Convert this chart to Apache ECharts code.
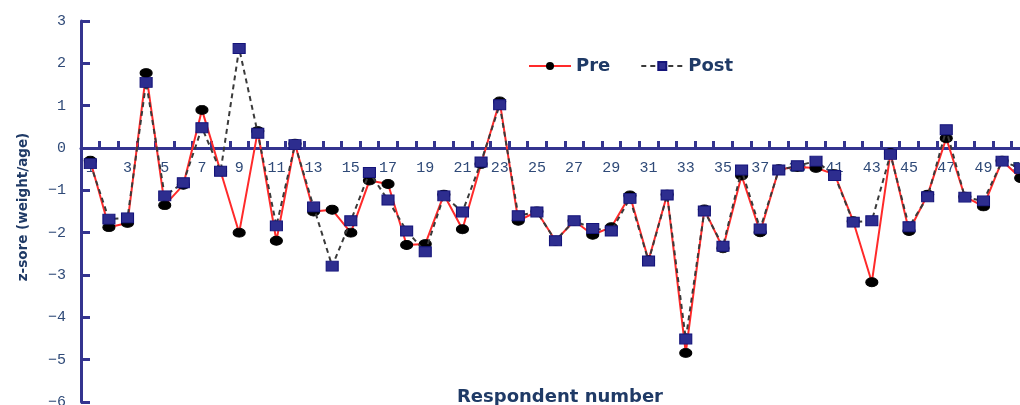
<!DOCTYPE html>
<html>
<head>
    <meta charset="utf-8">
    <title>z-score pre/post</title>
    <script src="https://cdn.jsdelivr.net/npm/echarts@6/dist/echarts.min.js"></script>
    <style>
        html, body, #main {
            width: 100%;
            height: 100%;
            margin: 0;
            background: #fff;
        }
    </style>
</head>
<body>
    <div id="main"></div>
    <script type="text/javascript">
        // respondent numbers 1..51
        var respondents = [];
        for (var i = 1; i <= 51; i++) respondents.push(String(i));

        var pre = [
            -0.30, -1.87, -1.77, 1.77, -1.35, -0.87, 0.90, -0.55, -2.00, 0.40,
            -2.19, 0.10, -1.50, -1.46, -2.00, -0.77, -0.85, -2.29, -2.27, -1.10,
            -1.92, -0.38, 1.10, -1.72, -1.50, -2.19, -1.72, -2.05, -1.87, -1.12,
            -2.65, -1.10, -4.84, -1.45, -2.37, -0.65, -1.99, -0.50, -0.45, -0.47,
            -0.62, -1.73, -3.17, -0.12, -1.96, -1.10, 0.23, -1.15, -1.38, -0.30,
            -0.71
        ];
        var post = [
            -0.37, -1.68, -1.65, 1.55, -1.13, -0.82, 0.48, -0.55, 2.35, 0.35,
            -1.84, 0.08, -1.39, -2.79, -1.72, -0.58, -1.23, -1.96, -2.45, -1.13,
            -1.51, -0.33, 1.02, -1.60, -1.51, -2.19, -1.72, -1.90, -1.96, -1.19,
            -2.67, -1.11, -4.51, -1.49, -2.32, -0.52, -1.91, -0.52, -0.42, -0.31,
            -0.65, -1.75, -1.72, -0.15, -1.86, -1.15, 0.43, -1.16, -1.25, -0.31,
            -0.48
        ];

        var axisColor = '#34348f';
        var labelColor = '#2f4a78';
        var titleColor = '#1f3a66';

        var myChart = echarts.init(document.getElementById('main'));
        var option = {
            animation: false,
            grid: {
                left: 81,
                top: 21,
                width: 949,
                height: 381,
                containLabel: false,
                outerBoundsMode: 'none'
            },
            legend: {
                left: 523,
                top: 52,
                itemWidth: 42,
                itemHeight: 10,
                itemGap: 30,
                textStyle: {
                    fontFamily: 'DejaVu Sans',
                    fontWeight: 'bold',
                    fontSize: 18,
                    color: titleColor
                },
                data: ['Pre', 'Post']
            },
            graphic: [
                {
                    type: 'text',
                    x: 23,
                    y: 207,
                    rotation: Math.PI / 2,
                    style: {
                        text: 'z-sore (weight/age)',
                        fontFamily: 'DejaVu Sans',
                        fontWeight: 'bold',
                        fontSize: 13.5,
                        fill: titleColor,
                        textAlign: 'center',
                        textVerticalAlign: 'middle'
                    }
                },
                {
                    type: 'text',
                    x: 560,
                    y: 397,
                    style: {
                        text: 'Respondent number',
                        fontFamily: 'DejaVu Sans',
                        fontWeight: 'bold',
                        fontSize: 18,
                        fill: titleColor,
                        textAlign: 'center',
                        textVerticalAlign: 'middle'
                    }
                }
            ],
            xAxis: {
                type: 'category',
                data: respondents,
                boundaryGap: true,
                // sits on y = 0 : 6 of the 9 units above the grid bottom
                offset: -254,
                axisLine: {
                    onZero: false,
                    lineStyle: { color: axisColor, width: 3 }
                },
                axisTick: {
                    show: true,
                    inside: true,
                    interval: 0,
                    length: 7,
                    lineStyle: { color: axisColor, width: 3 }
                },
                axisLabel: {
                    interval: 1,
                    margin: 13,
                    fontFamily: 'Liberation Mono',
                    fontSize: 15,
                    color: labelColor
                },
                splitLine: { show: false }
            },
            yAxis: {
                type: 'value',
                min: -6,
                max: 3,
                interval: 1,
                axisLine: {
                    show: true,
                    lineStyle: { color: axisColor, width: 3 }
                },
                axisTick: {
                    show: true,
                    inside: true,
                    length: 9,
                    lineStyle: { color: axisColor, width: 3 }
                },
                axisLabel: {
                    margin: 15,
                    fontFamily: 'Liberation Mono',
                    fontSize: 15,
                    color: labelColor,
                    formatter: function (v) {
                        return String(v).replace('-', '\u2212');
                    }
                },
                splitLine: { show: false }
            },
            series: [
                {
                    name: 'Pre',
                    type: 'line',
                    data: pre,
                    z: 2,
                    symbol: 'circle',
                    symbolSize: [12, 9],
                    lineStyle: { color: '#ff2a2a', width: 2 },
                    itemStyle: { color: '#000', borderColor: '#000' }
                },
                {
                    name: 'Post',
                    type: 'line',
                    data: post,
                    z: 3,
                    symbol: 'rect',
                    symbolSize: [12, 10],
                    lineStyle: { color: '#3a3a3a', width: 2, type: [5, 4] },
                    itemStyle: { color: '#2d2d8f', borderColor: '#14147a', borderWidth: 1 }
                }
            ]
        };
        if (option && typeof option === "object") {
            myChart.setOption(option, true);
        }
    </script>
</body>
</html>
